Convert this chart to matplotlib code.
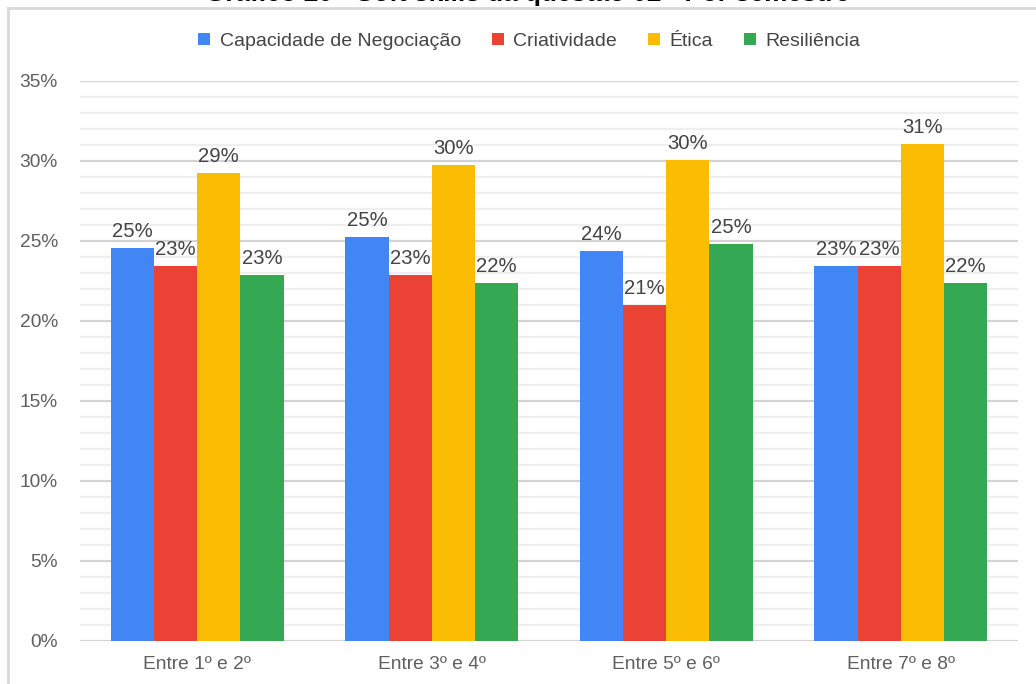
import numpy as np
import matplotlib
matplotlib.use("Agg")
import matplotlib.pyplot as plt
from matplotlib.lines import Line2D
from matplotlib.ticker import MultipleLocator, PercentFormatter

plt.rcParams['font.family'] = ['Liberation Sans', 'DejaVu Sans']

# Dados por semestre (fração de respostas)
semestres = ["Entre 1º e 2º", "Entre 3º e 4º", "Entre 5º e 6º", "Entre 7º e 8º"]
series = ["Capacidade de Negociação", "Criatividade", "Ética", "Resiliência"]
negociacao = [0.2456, 0.2525, 0.2440, 0.2344]
criatividade = [0.2345, 0.2290, 0.2100, 0.2344]
etica = [0.2925, 0.2975, 0.3006, 0.3106]
resiliencia = [0.2290, 0.2240, 0.2480, 0.2240]
cores = ["#4285F4", "#EA4335", "#FBBC04", "#34A853"]

valores = [negociacao, criatividade, etica, resiliencia]

fig = plt.figure(figsize=(10.36, 6.84), dpi=100)
ax = fig.add_axes([0.0772, 0.0629, 0.9054, 0.8187])

x = np.arange(len(semestres))
largura = 0.184
for i, (nome, vals, cor) in enumerate(zip(series, valores, cores)):
    pos = x + (i - 1.5) * largura
    barras = ax.bar(pos, vals, width=largura, color=cor, label=nome, zorder=3)
    for b, v in zip(barras, vals):
        ax.annotate(f"{v * 100:.0f}%", (b.get_x() + b.get_width() / 2, v),
                    xytext=(0, 5), textcoords="offset points",
                    ha="center", va="bottom", fontsize=14.6, color="#444444", zorder=4)

ax.set_xlim(-0.5, 3.5)
ax.set_ylim(0, 0.35)
ax.yaxis.set_major_locator(MultipleLocator(0.05))
ax.yaxis.set_minor_locator(MultipleLocator(0.01))
ax.yaxis.set_major_formatter(PercentFormatter(1.0, decimals=0))
ax.grid(which="major", axis="y", color="#d3d3d3", linewidth=1.6, zorder=0)
ax.grid(which="minor", axis="y", color="#efefef", linewidth=1.6, zorder=0)
for s in ax.spines.values():
    s.set_visible(False)
ax.tick_params(axis="both", which="both", length=0)
ax.tick_params(axis="y", labelsize=13.8, labelcolor="#5f5f5f", pad=16)
ax.tick_params(axis="x", labelsize=13.8, labelcolor="#5f5f5f", pad=11)
ax.set_xticks(x)
ax.set_xticklabels(semestres)

leg = fig.legend(loc="center", bbox_to_anchor=(0.511, 0.940), ncol=4, frameon=False,
                 fontsize=14, handlelength=0.6, handleheight=0.6, handletextpad=0.5,
                 columnspacing=1.6)
for t in leg.get_texts():
    t.set_color("#444444")

# Título (cortado no topo) e moldura
fig.text(0.509, 1 - 1.5 / 684, "Gráfico 20 - Soft skills da questão 02 - Por semestre",
         ha="center", va="baseline", fontsize=18.8, fontweight="bold", color="#000000")
fig.add_artist(Line2D([8 / 1036, 1.0], [1 - 8 / 684, 1 - 8 / 684], color="#d9d9d9", linewidth=2))
fig.add_artist(Line2D([8 / 1036, 8 / 1036], [0, 1 - 8 / 684], color="#d9d9d9", linewidth=2))

fig.savefig("out.png", dpi=100)
